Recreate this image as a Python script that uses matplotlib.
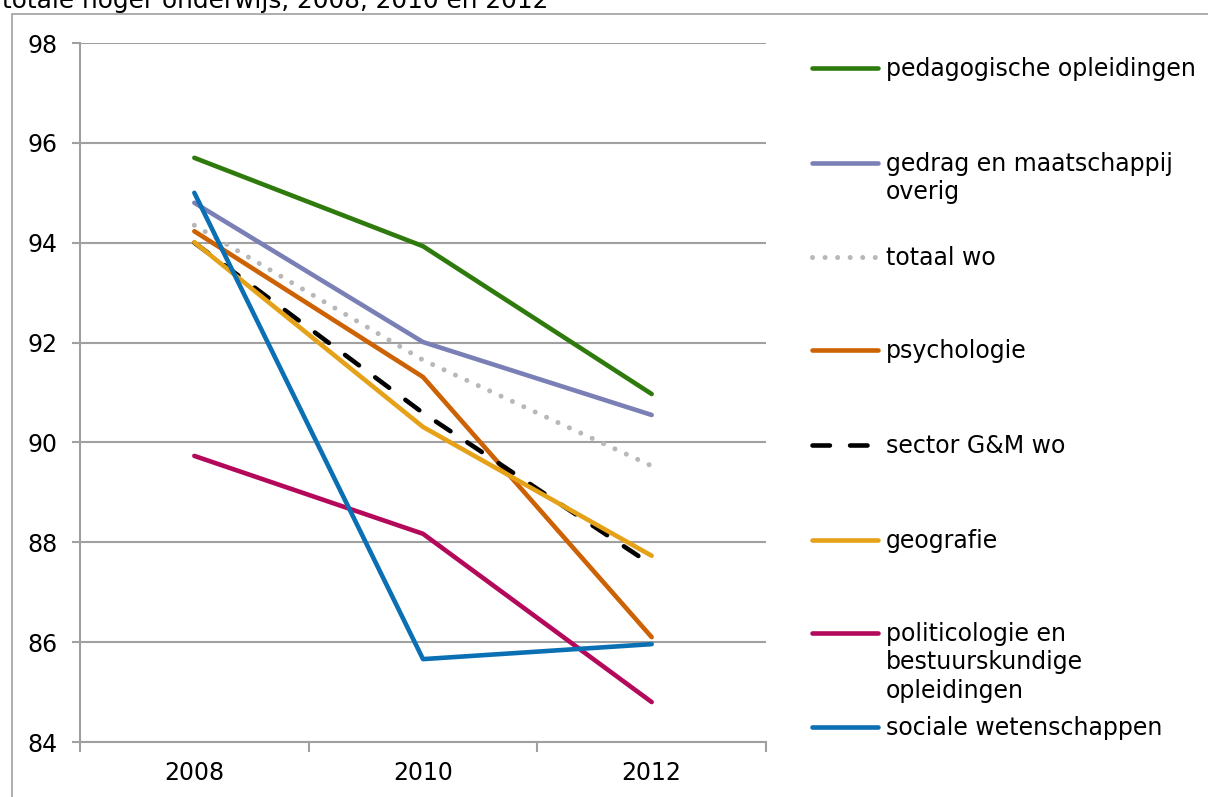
import matplotlib
matplotlib.use("Agg")
import matplotlib.pyplot as plt
from matplotlib.lines import Line2D
from matplotlib.patches import Rectangle

years = ["2008", "2010", "2012"]

pedagogisch = [95.70, 93.93, 90.97]
gedrag_overig = [94.80, 92.01, 90.55]
totaal_wo = [94.35, 91.65, 89.53]
psychologie = [94.23, 91.31, 86.10]
sector_gm = [94.00, 90.59, 87.55]
geografie = [94.01, 90.31, 87.73]
politicologie = [89.73, 88.17, 84.80]
sociale_wet = [95.00, 85.66, 85.96]

labels = ["pedagogische opleidingen", "gedrag en maatschappij\noverig", "totaal wo",
          "psychologie", "sector G&M wo", "geografie",
          "politicologie en\nbestuurskundige\nopleidingen", "sociale wetenschappen"]
series = [pedagogisch, gedrag_overig, totaal_wo, psychologie, sector_gm, geografie,
          politicologie, sociale_wet]
colors = ["#2f7a0c", "#7a80b6", "#b8b8b8", "#cc6204", "#000000", "#e5a117",
          "#b4085a", "#0a6fb3"]
styles = ["-", "-", (0, (0.01, 2.5)), "-", (0, (3.8, 4.4)), "-", "-", "-"]
widths = [3.3, 3.3, 3.6, 3.3, 3.3, 3.3, 3.3, 3.3]

plt.rcParams["font.family"] = "DejaVu Sans"
FS = 17
fig = plt.figure(figsize=(12.08, 7.97), dpi=100)
W, H = 1208, 797
ax = fig.add_axes([80 / W, 1 - 742 / H, (766 - 80) / W, (742 - 43) / H])

x = list(range(len(years)))
for vals, c, ls, lw in zip(series, colors, styles, widths):
    ax.plot(x, vals, color=c, lw=lw, linestyle=ls, solid_capstyle="round",
            dash_capstyle="round", solid_joinstyle="round")

grid_c = "#a0a0a0"
ax.set_xlim(-0.5, 2.5)
ax.set_ylim(84, 98)
ax.set_yticks(range(84, 99, 2))
ax.yaxis.grid(True, color=grid_c, lw=1.5)
ax.set_axisbelow(True)
ax.set_xticks(x)
ax.set_xticklabels(years)
ax.set_xticks([-0.5, 0.5, 1.5, 2.5], minor=True)
ax.tick_params(axis="x", which="major", length=0, labelsize=FS, pad=14)
ax.tick_params(axis="x", which="minor", length=7, width=1.5, color=grid_c)
ax.tick_params(axis="y", length=6, width=1.5, color=grid_c, labelsize=FS, pad=10)
for s in ["top", "right"]:
    ax.spines[s].set_visible(False)
for s in ["left", "bottom"]:
    ax.spines[s].set_color(grid_c)
    ax.spines[s].set_linewidth(1.5)

# legend drawn by hand so the line sits on the first text line
leg_y = [68, 163, 257, 350, 445, 540, 633, 727]
for ly, lab, c, ls, lw in zip(leg_y, labels, colors, styles, widths):
    fy = 1 - ly / H
    fig.add_artist(Line2D([812 / W, 878 / W], [fy, fy], color=c, lw=lw, linestyle=ls,
                          solid_capstyle="round", dash_capstyle="round"))
    for i, part in enumerate(lab.split("\n")):
        fig.text(886 / W, 1 - (ly + 8 + 28.5 * i) / H, part, fontsize=FS,
                 va="baseline", ha="left")

# outer frame and cut-off title
fig.add_artist(Rectangle((12 / W, -0.1), 1.2, 1 - 14 / H + 0.1, transform=fig.transFigure,
                         fill=False, edgecolor=grid_c, lw=1.2))
fig.text(2 / W, 1 - 8 / H, "totale hoger onderwijs, 2008, 2010 en 2012", fontsize=17.8,
         va="baseline", ha="left")

fig.savefig("out.png", dpi=100)
